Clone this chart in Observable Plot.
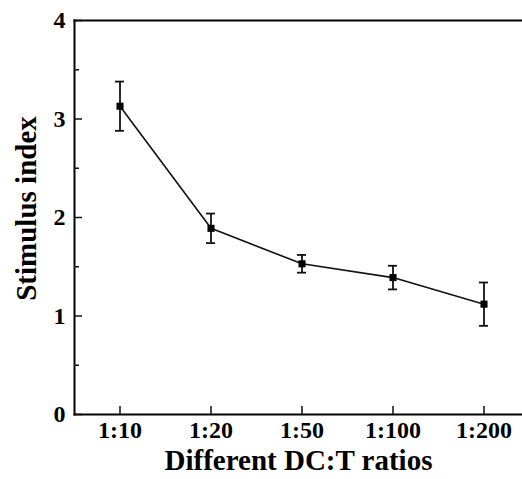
<!DOCTYPE html>
<html>
<head>
<meta charset="utf-8">
<script src="https://cdn.jsdelivr.net/npm/d3@7"></script>
<script src="https://cdn.jsdelivr.net/npm/@observablehq/plot@0.6"></script>
<style>
  html, body { margin: 0; padding: 0; background: #fff; overflow: hidden; }
  #chart svg { overflow: hidden; }
</style>
</head>
<body>
<div id="chart"></div>
<script>
const ratios = ["1:10", "1:20", "1:50", "1:100", "1:200"];
const means  = [3.13, 1.89, 1.53, 1.39, 1.12];
const errors = [0.25, 0.15, 0.09, 0.12, 0.22];
const yMajor = [0, 1, 2, 3, 4];
const yMinor = [0.5, 1.5, 2.5, 3.5];

const data = ratios.map((r, i) => ({ratio: r, mean: means[i], lo: means[i] - errors[i], hi: means[i] + errors[i]}));

const font = "Liberation Serif, Times New Roman, serif";
const W = 522, H = 479, mL = 74, mR = 0, mT = 20, mB = 65;
const frameW = W - mL - mR, frameH = H - mT - mB;

const plot = Plot.plot({
  width: W,
  height: H,
  marginLeft: mL,
  marginRight: mR,
  marginTop: mT,
  marginBottom: mB,
  style: {background: "#fff", fontFamily: font, color: "#000"},
  x: {type: "band", domain: ratios, range: [74, 529], padding: 0},
  y: {domain: [0, 4]},
  marks: [
    Plot.frame({anchor: "left", strokeWidth: 2}),
    Plot.frame({anchor: "bottom", strokeWidth: 2}),
    Plot.frame({anchor: "top", strokeWidth: 2}),
    Plot.axisY({ticks: yMajor, tickFormat: d3.format("d"), tickSize: 0, tickPadding: 9, fontSize: 24, fontWeight: "bold", fontFamily: font, label: null}),
    Plot.tickY(yMajor, {y: d => d, stroke: "#111", strokeWidth: 1.5, insetRight: frameW - 8}),
    Plot.tickY(yMinor, {y: d => d, stroke: "#111", strokeWidth: 1.5, insetRight: frameW - 5}),
    Plot.axisX({tickSize: 0, tickPadding: 6, fontSize: 24, fontWeight: "bold", fontFamily: font, label: null}),
    Plot.tickX(ratios, {x: d => d, stroke: "#111", strokeWidth: 1.5, insetTop: frameH - 8}),
    Plot.text(["Stimulus index"], {frameAnchor: "left", textAnchor: "middle", lineAnchor: "middle", dx: -48, dy: -9, rotate: -90, fontSize: 29, fontWeight: "bold", fontFamily: font, fill: "#000"}),
    Plot.text(["Different DC:T ratios"], {frameAnchor: "bottom", textAnchor: "middle", lineAnchor: "middle", dy: 46, fontSize: 29, fontWeight: "bold", fontFamily: font, fill: "#000"}),
    Plot.line(data, {x: "ratio", y: "mean", stroke: "#111", strokeWidth: 1.6}),
    Plot.ruleX(data, {x: "ratio", y1: "lo", y2: "hi", stroke: "#111", strokeWidth: 1.8}),
    Plot.tickY(data, {x: "ratio", y: "lo", stroke: "#111", strokeWidth: 1.8, insetLeft: 41, insetRight: 41}),
    Plot.tickY(data, {x: "ratio", y: "hi", stroke: "#111", strokeWidth: 1.8, insetLeft: 41, insetRight: 41}),
    Plot.dot(data, {x: "ratio", y: "mean", symbol: "square", r: 4, fill: "#000", stroke: "none"})
  ]
});
document.getElementById("chart").appendChild(plot);
</script>
</body>
</html>
